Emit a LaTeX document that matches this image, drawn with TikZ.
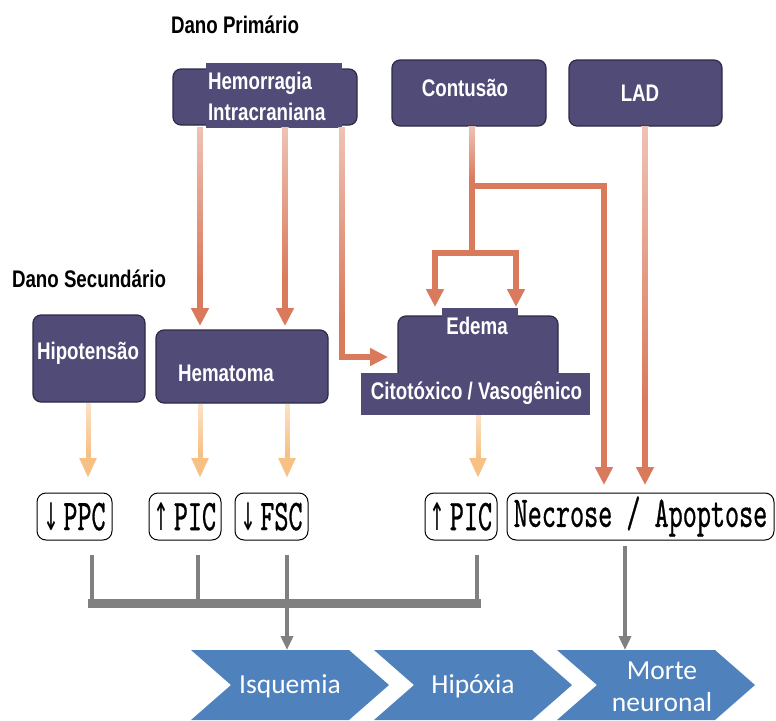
\documentclass[tikz,border=0pt]{standalone}
\usepackage{fontspec}
\usepackage{graphicx}
\setmainfont{Liberation Sans}
\newfontfamily\cond[FakeStretch=0.78]{Liberation Sans}
\newfontfamily\carl{Carlito}
\newfontfamily\djv{DejaVu Sans}
\newfontfamily\monof[Extension=.otf,FakeStretch=0.61,FakeBold=0.6]{lmmono10-regular}
\usetikzlibrary{arrows.meta,fadings}
\tikzfading[name=fadetop, top color=transparent!45, bottom color=transparent!100]

\definecolor{purp}{RGB}{81,75,120}
\definecolor{purpedge}{RGB}{45,42,70}
\definecolor{salmon}{RGB}{218,122,92}
\definecolor{lorange}{RGB}{247,192,132}
\definecolor{grayln}{RGB}{128,128,128}
\definecolor{chev}{RGB}{79,129,189}

\newcommand{\mtxt}[1]{{\monof\fontsize{44}{44}\selectfont #1}}
\newcommand{\darr}{\scalebox{0.5}[1]{\djv\fontsize{38}{38}\selectfont ↓}}
\newcommand{\uarr}{\scalebox{0.5}[1]{\djv\fontsize{38}{38}\selectfont ↑}}

\tikzset{
  pbox/.style={draw=purpedge, line width=1.2pt, fill=purp, rounded corners=8pt, inner sep=0pt},
  pover/.style={fill=purp, inner sep=0pt},
  btxt/.style={text=white, font=\cond\bfseries\fontsize{24}{31}\selectfont, inner sep=0pt},
  hdr/.style={text=black, font=\cond\bfseries\fontsize{24}{26}\selectfont, inner sep=0pt},
  sbox/.style={draw=black, line width=1pt, rounded corners=9pt, fill=white, inner sep=0pt, minimum height=47pt},
  sline/.style={draw=salmon, line width=6pt},
  sarr/.style={draw=salmon, line width=6pt, -{Triangle[width=17pt,length=18pt]}},
  sarr2/.style={draw=salmon, line width=6pt, {Triangle[width=17pt,length=18pt]}-{Triangle[width=17pt,length=18pt]}},
  oarr/.style={draw=lorange, line width=5pt, -{Triangle[width=16pt,length=20pt]}},
  gline/.style={draw=grayln, line width=4pt},
  gbar/.style={draw=grayln, line width=9pt},
  garr/.style={draw=grayln, line width=4pt, -{Triangle[width=12pt,length=14pt]}},
  ctxt/.style={text=white, font=\carl\fontsize{27.5}{32}\selectfont, inner sep=0pt, align=center},
  fade/.style={fill=white, path fading=fadetop}
}

\begin{document}
\begin{tikzpicture}[x=1pt,y=-1pt]
\fill[white] (0,0) rectangle (776,720);
\useasboundingbox (0,0) rectangle (776,720);

% headers
\node[hdr] (h1) at (235,25) {Dano Primário};
\node[hdr] (h2) at (89,279) {Dano Secundário};

% primary boxes
\node[pbox, minimum width=184pt, minimum height=56pt] (hembase) at (265,97) {};
\node[pover, minimum width=136pt, minimum height=65pt] (hem) at (274,95.5) {};
\node[btxt, text width=134pt, align=left] (hemt) at (275,96.5) {Hemorragia\\Intracraniana};
\node[pbox, minimum width=154pt, minimum height=66pt] (cont) at (469,93) {};
\node[btxt] (contt) at (465,88) {Contusão};
\node[pbox, minimum width=153pt, minimum height=66pt] (lad) at (645.5,93) {};
\node[btxt] (ladt) at (640,93) {LAD};

% secondary boxes
\node[pbox, minimum width=112pt, minimum height=87pt] (hipo) at (89,358.5) {};
\node[btxt] (hipot) at (88,353) {Hipotensão};
\node[pbox, minimum width=172pt, minimum height=73pt] (hemat) at (242,366.5) {};
\node[btxt] (hematt) at (226,373) {Hematoma};
\node[pbox, minimum width=160pt, minimum height=64pt] (edup) at (478,348) {};
\node[pover, minimum width=229pt, minimum height=42pt] (edlow) at (475.5,394) {};
\node[btxt] (edlowt) at (476.5,393) {Citotóxico / Vasogênico};
\node[pover, minimum width=76pt, minimum height=37pt] (edtop) at (480,326.5) {};
\node[btxt] (edtopt) at (477,326) {Edema};

% small boxes
\node[sbox, minimum width=75pt] (ppc) at (74.5,516.5) {\darr\hspace{4pt}\mtxt{PPC}};
\node[sbox, minimum width=72pt] (pic1) at (185,516.5) {\uarr\hspace{4pt}\mtxt{PIC}};
\node[sbox, minimum width=73pt] (fsc) at (271.5,516.5) {\darr\hspace{4pt}\mtxt{FSC}};
\node[sbox, minimum width=72pt] (pic2) at (461,516.5) {\uarr\hspace{4pt}\mtxt{PIC}};
\node[sbox, minimum width=267pt] (nec) at (640.5,516.5) {\mtxt{Necrose / Apoptose}};

% chevrons
\fill[chev] (191,650) -- (349,650) -- (389,685) -- (349,720) -- (191,720) -- (231,685) -- cycle;
\fill[chev] (374,650) -- (532,650) -- (572,685) -- (532,720) -- (374,720) -- (414,685) -- cycle;
\fill[chev] (557,650) -- (715,650) -- (755,685) -- (715,720) -- (557,720) -- (597,685) -- cycle;
\node[ctxt] (isq) at (290,686) {Isquemia};
\node[ctxt] (hip) at (473,686) {Hipóxia};
\node[ctxt] (mor) at (662,687) {Morte\\neuronal};

% coordinates
\coordinate (hA) at (200,127);
\coordinate (hB) at (285,127);
\coordinate (hC) at (342,127);
\coordinate (hCc) at (342,357);
\coordinate (hCt) at (388,357);
\coordinate (hAt) at (200,326);
\coordinate (hBt) at (285,326);
\coordinate (cS) at (472,126);
\coordinate (cj1) at (472,186);
\coordinate (cj2) at (472,253);
\coordinate (cR) at (604,186);
\coordinate (cRt) at (604,485);
\coordinate (cbL) at (435,253);
\coordinate (cbR) at (516,253);
\coordinate (cbLt) at (435,307);
\coordinate (cbRt) at (516,307);
\coordinate (lS) at (645,126);
\coordinate (lT) at (645,485);

% salmon arrows
\draw[sarr] (hA) -- (hAt);
\draw[sarr] (hB) -- (hBt);
\draw[sarr] (hC) -- (hCc) -- (hCt);
\draw[sline] (cS) -- (cj2);
\draw[sarr] (cj1) -- (cR) -- (cRt);
\draw[sarr2] (cbLt) -- (cbL) -- (cbR) -- (cbRt);
\draw[sarr] (lS) -- (lT);

% light orange arrows
\coordinate (o1s) at (88,403);
\coordinate (o1t) at (88,478);
\coordinate (o2s) at (200,404);
\coordinate (o2t) at (200,478);
\coordinate (o3s) at (287,404);
\coordinate (o3t) at (287,478);
\coordinate (o4s) at (478,415);
\coordinate (o4t) at (478,478);
\draw[oarr] (o1s) -- (o1t);
\draw[oarr] (o2s) -- (o2t);
\draw[oarr] (o3s) -- (o3t);
\draw[oarr] (o4s) -- (o4t);

% fading toward the top of the shafts
\fill[fade] (196,127) rectangle (204,280);
\fill[fade] (281,127) rectangle (289,280);
\fill[fade] (338,127) rectangle (346,320);
\fill[fade] (641,126) rectangle (649,400);
\fill[fade] (468,126) rectangle (476,180);
\fill[fade] (84,403) rectangle (92,455);
\fill[fade] (196,404) rectangle (204,455);
\fill[fade] (283,404) rectangle (291,455);
\fill[fade] (474,415) rectangle (482,458);

% gray connectors
\coordinate (g1) at (92,555);
\coordinate (g1b) at (92,603);
\coordinate (g2) at (198,555);
\coordinate (g2b) at (198,603);
\coordinate (g3) at (287,555);
\coordinate (g3t) at (287,650);
\coordinate (g4) at (477,555);
\coordinate (g4b) at (477,603);
\coordinate (gbL) at (88,603);
\coordinate (gbR) at (481,603);
\coordinate (g5) at (625,546);
\coordinate (g5t) at (625,650);
\draw[gline] (g1) -- (g1b);
\draw[gline] (g2) -- (g2b);
\draw[gline] (g4) -- (g4b);
\draw[gbar] (gbL) -- (gbR);
\draw[garr] (g3) -- (g3t);
\draw[garr] (g5) -- (g5t);
\end{tikzpicture}
\end{document}
